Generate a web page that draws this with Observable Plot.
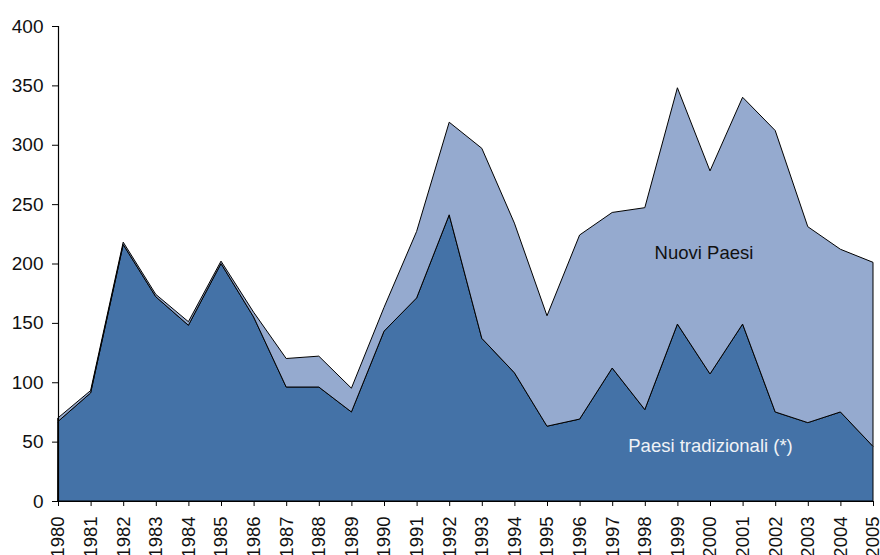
<!DOCTYPE html>
<html><head><meta charset="utf-8">
<script src="https://cdn.jsdelivr.net/npm/d3@7"></script>
<script src="https://cdn.jsdelivr.net/npm/@observablehq/plot@0.6"></script>
<style>body{margin:0;background:#fff;overflow:hidden}</style>
</head><body><div id="chart"></div>
<script>
const years = [1980,1981,1982,1983,1984,1985,1986,1987,1988,1989,1990,1991,1992,1993,1994,1995,1996,1997,1998,1999,2000,2001,2002,2003,2004,2005];
const paesiTradizionali = [67,91,216,172,148,200,155,96,96,75,143,171,241,137,108,63,69,112,77,149,107,149,75,66,75,46];
const nuoviPaesi = [3,2,2,2,3,2,4,24,26,20,20,56,78,160,126,93,155,131,170,199,171,191,237,165,137,155];
const seriesNames = ["Paesi tradizionali (*)", "Nuovi Paesi"];
const seriesColors = ["#4472A7", "#95AACF"];
const yTicks = [0,50,100,150,200,250,300,350,400];
const labels = [
  {year: 1999.8, value: 209, text: "Nuovi Paesi", color: "#111111"},
  {year: 2000.0, value: 47, text: "Paesi tradizionali (*)", color: "#f0f2f6"}
];

const rows = [];
years.forEach((y, i) => rows.push({year: y, series: seriesNames[0], value: paesiTradizionali[i]}));
years.forEach((y, i) => rows.push({year: y, series: seriesNames[1], value: nuoviPaesi[i]}));

const chart = Plot.plot({
  width: 880,
  height: 555,
  marginLeft: 58,
  marginRight: 7,
  marginTop: 26,
  marginBottom: 54,
  style: {fontFamily: "'Liberation Sans', Arial, sans-serif", fontSize: "18px", color: "#111", background: "#fff"},
  x: {type: "linear", domain: [1980, 2005]},
  y: {domain: [0, 400]},
  color: {domain: seriesNames, range: seriesColors},
  marks: [
    Plot.areaY(rows, {x: "year", y: "value", z: "series", fill: "series", stroke: "#000", strokeWidth: 1, strokeLinejoin: "miter"}),
    Plot.text(labels, {x: "year", y: "value", text: "text", fill: "color", fontSize: 18.5}),
    Plot.ruleY([0], {stroke: "#000", strokeWidth: 1.2}),
    Plot.ruleX([1980], {y1: 0, y2: 400, stroke: "#000", strokeWidth: 1.2}),
    Plot.axisY({ticks: yTicks, tickSize: 6, tickPadding: 9, label: null, stroke: "#000", fontSize: 19, tickFormat: d => String(d)}),
    Plot.axisX({ticks: years, tickSize: 5, tickPadding: 10, tickRotate: -90, label: null, stroke: "#000", fontSize: 18.5, tickFormat: d => String(d)})
  ]
});
document.getElementById("chart").appendChild(chart);
</script>
</body></html>
